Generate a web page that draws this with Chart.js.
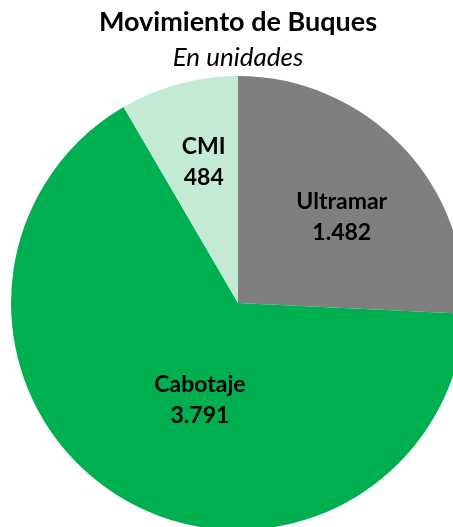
<!DOCTYPE html>
<html>
<head>
<meta charset="utf-8">
<script src="https://cdn.jsdelivr.net/npm/chart.js@4"></script>
<style>
  html, body { margin: 0; padding: 0; background: #ffffff; overflow: hidden; width: 453px; height: 527px; }
  #wrap { position: absolute; left: 0; top: 0; width: 476px; height: 530px; }
</style>
</head>
<body>
<div id="wrap"><canvas id="c" width="476" height="530"></canvas></div>
<script>
// Data
const categories = ['Ultramar', 'Cabotaje', 'CMI'];
const values = [1482, 3791, 484];
const titleText = 'Movimiento de Buques';
const subtitleText = 'En unidades';

// Styles
const sliceColors = ['#7F7F7F', '#00B050', '#C2EAD4'];
const labelRadius = [0.60, 0.45, 0.65];
const labelAngleShift = [3.3, -9.3, 1.7]; // degrees

function fmt(v) {
  return String(v).replace(/\B(?=(\d{3})+(?!\d))/g, '.');
}

const labelPlugin = {
  id: 'sliceLabels',
  afterDatasetsDraw(chart) {
    const ctx = chart.ctx;
    const meta = chart.getDatasetMeta(0);
    ctx.save();
    ctx.fillStyle = '#000000';
    ctx.font = 'bold 23px Lato';
    ctx.textAlign = 'center';
    ctx.textBaseline = 'alphabetic';
    meta.data.forEach((arc, i) => {
      const p = arc.getProps(['x', 'y', 'startAngle', 'endAngle', 'outerRadius'], true);
      const mid = (p.startAngle + p.endAngle) / 2 + labelAngleShift[i] * Math.PI / 180;
      const r = p.outerRadius * labelRadius[i];
      const cx = p.x + Math.cos(mid) * r;
      const cy = p.y + Math.sin(mid) * r;
      ctx.fillText(categories[i], cx, cy - 6);
      ctx.fillText(fmt(values[i]), cx, cy + 25);
    });
    ctx.restore();
  }
};

new Chart(document.getElementById('c'), {
  type: 'pie',
  data: {
    labels: categories,
    datasets: [{
      data: values,
      backgroundColor: sliceColors,
      borderWidth: 0,
      hoverOffset: 0
    }]
  },
  options: {
    responsive: false,
    animation: false,
    layout: { padding: 0 },
    plugins: {
      legend: { display: false },
      tooltip: { enabled: false },
      title: {
        display: true,
        text: titleText,
        color: '#000000',
        font: { family: 'Lato', size: 27, weight: 'bold', lineHeight: 1.2 },
        padding: { top: 6, bottom: 2 }
      },
      subtitle: {
        display: true,
        text: subtitleText,
        color: '#000000',
        font: { family: 'Lato', size: 26, style: 'italic', weight: 'normal', lineHeight: 1.2 },
        padding: { top: 2, bottom: 2.5 }
      }
    }
  },
  plugins: [labelPlugin]
});
</script>
</body>
</html>
